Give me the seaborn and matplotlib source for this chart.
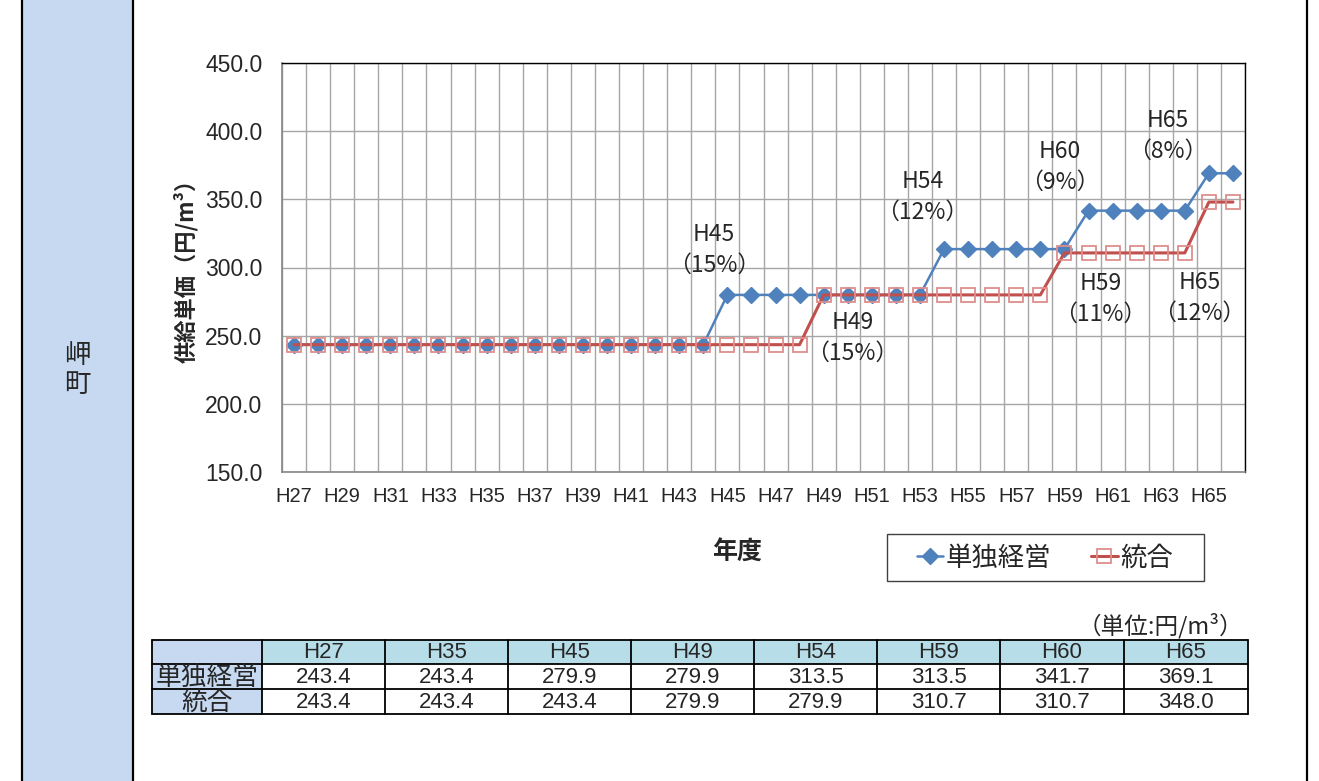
import seaborn as sns
import matplotlib.pyplot as plt
import matplotlib.patches as mpatches
import matplotlib.lines as mlines
import pandas as pd

# ---- data ----
years = ["H27", "H28", "H29", "H30", "H31", "H32", "H33", "H34", "H35", "H36",
         "H37", "H38", "H39", "H40", "H41", "H42", "H43", "H44", "H45", "H46",
         "H47", "H48", "H49", "H50", "H51", "H52", "H53", "H54", "H55", "H56",
         "H57", "H58", "H59", "H60", "H61", "H62", "H63", "H64", "H65", "H66"]
single = [243.4, 243.4, 243.4, 243.4, 243.4, 243.4, 243.4, 243.4, 243.4, 243.4,
          243.4, 243.4, 243.4, 243.4, 243.4, 243.4, 243.4, 243.4, 279.9, 279.9,
          279.9, 279.9, 279.9, 279.9, 279.9, 279.9, 279.9, 313.5, 313.5, 313.5,
          313.5, 313.5, 313.5, 341.7, 341.7, 341.7, 341.7, 341.7, 369.1, 369.1]
merged = [243.4, 243.4, 243.4, 243.4, 243.4, 243.4, 243.4, 243.4, 243.4, 243.4,
          243.4, 243.4, 243.4, 243.4, 243.4, 243.4, 243.4, 243.4, 243.4, 243.4,
          243.4, 243.4, 279.9, 279.9, 279.9, 279.9, 279.9, 279.9, 279.9, 279.9,
          279.9, 279.9, 310.7, 310.7, 310.7, 310.7, 310.7, 310.7, 348.0, 348.0]

table_years = ["H27", "H35", "H45", "H49", "H54", "H59", "H60", "H65"]
table_single = [243.4, 243.4, 279.9, 279.9, 313.5, 313.5, 341.7, 369.1]
table_merged = [243.4, 243.4, 243.4, 279.9, 279.9, 310.7, 310.7, 348.0]

# step notes: text, category position, value position
notes = [("H45\n（15%）", 17.45, 312.8),
         ("H49\n（15%）", 23.2, 248.3),
         ("H54\n（12%）", 26.1, 351.7),
         ("H60\n（9%）", 31.8, 373.7),
         ("H65\n（8%）", 36.3, 396.5),
         ("H59\n（11%）", 33.5, 276.9),
         ("H65\n（12%）", 37.6, 277.6)]

df = pd.DataFrame({"idx": range(len(years)), "single": single, "merged": merged})

sns.set_style("white")
plt.rcParams["font.family"] = ["Liberation Sans", "Noto Sans CJK JP", "DejaVu Sans"]
JP = ["Noto Sans CJK JP", "DejaVu Sans"]

W, H = 1319, 781
fig = plt.figure(figsize=(W / 100, H / 100), dpi=100)


def fx(x):
    return x / W


def fy(y):
    return 1 - y / H


# left label panel and frame
fig.add_artist(mpatches.Rectangle((fx(22), 0), fx(133) - fx(22), 1, transform=fig.transFigure,
                                  facecolor="#c6d9f0", edgecolor="none", zorder=0))
for xx in (22, 133, 1307):
    fig.add_artist(mlines.Line2D([fx(xx), fx(xx)], [0, 1], transform=fig.transFigure,
                                 color="black", lw=1.6))
fig.text(fx(77), fy(355), "岬", ha="center", va="center", fontsize=19, family=JP)
fig.text(fx(77), fy(385), "町", ha="center", va="center", fontsize=19, family=JP)

# ---- chart ----
ax = fig.add_axes([fx(282), fy(472), fx(1245) - fx(282), fy(63) - fy(472)])
sns.lineplot(data=df, x="idx", y="single", ax=ax, color="#4f81bd", lw=1.8,
             marker="D", markersize=8.5, markerfacecolor="#4f81bd",
             markeredgecolor="#4f81bd", markeredgewidth=1, label="単独経営", zorder=3)
sns.lineplot(data=df, x="idx", y="merged", ax=ax, color="#c0504d", lw=2.2,
             marker="s", markersize=10.5, markerfacecolor="none",
             markeredgecolor="#de8f8d", markeredgewidth=1.3, label="統合", zorder=4)

ax.set_xlim(-0.5, len(years) - 0.5)
ax.set_ylim(150, 450)
ax.set_yticks(range(150, 451, 50))
ax.set_yticklabels([f"{v:.1f}" for v in range(150, 451, 50)], fontsize=16.5)
ax.set_xticks(range(0, len(years), 2))
ax.set_xticklabels(years[::2], fontsize=14.5)
ax.set_xticks([i - 0.5 for i in range(len(years) + 1)], minor=True)
ax.tick_params(axis="x", which="major", length=0, pad=11)
ax.tick_params(axis="x", which="minor", length=5, width=1, color="#868686", direction="out")
ax.tick_params(axis="y", which="major", length=7, width=1, color="#868686", direction="out", pad=7)
ax.grid(axis="y", which="major", color="#a6a6a6", lw=1)
ax.grid(axis="x", which="minor", color="#a6a6a6", lw=1)
ax.set_axisbelow(True)
for side in ("left", "bottom"):
    ax.spines[side].set_color("#868686")
    ax.spines[side].set_linewidth(1.2)
for side in ("top", "right"):
    ax.spines[side].set_color("black")
    ax.spines[side].set_linewidth(1)

ax.set_ylabel("供給単価（円/m³）", fontsize=16, fontweight="bold", family=JP)
ax.yaxis.set_label_coords((198 - 282) / 963, 0.505)
ax.set_xlabel("年度", fontsize=18, fontweight="bold", family=JP)
ax.xaxis.set_label_coords((737 - 282) / 963, (472 - 541) / 409)

for txt, xi, yv in notes:
    ax.text(xi, yv, txt, ha="center", va="center", fontsize=16.5, linespacing=1.4,
            family=JP, zorder=5)

# legend: content without frame, box drawn separately
ax.get_legend().remove()
handles, labels = ax.get_legend_handles_labels()
fig.legend(handles, labels, loc="center", bbox_to_anchor=(fx(1045), fy(558)),
           ncol=2, frameon=False, prop={"family": JP, "size": 19},
           handlelength=1.0, handletextpad=0.1, columnspacing=1.5)
fig.add_artist(mpatches.Rectangle((fx(887), fy(581)), fx(1204) - fx(887), fy(534) - fy(581),
                                  transform=fig.transFigure, facecolor="none",
                                  edgecolor="#404040", lw=1))

# ---- table ----
col_x = [152, 262, 385, 508, 631, 754, 877, 1000, 1124, 1248]
row_y = [640, 664, 689, 714]
fig.add_artist(mpatches.Rectangle((fx(col_x[0]), fy(row_y[3])), fx(col_x[1]) - fx(col_x[0]),
                                  fy(row_y[0]) - fy(row_y[3]), transform=fig.transFigure,
                                  facecolor="#c6d9f0", edgecolor="none"))
fig.add_artist(mpatches.Rectangle((fx(col_x[1]), fy(row_y[1])), fx(col_x[-1]) - fx(col_x[1]),
                                  fy(row_y[0]) - fy(row_y[1]), transform=fig.transFigure,
                                  facecolor="#b7dee8", edgecolor="none"))
for yy in row_y:
    fig.add_artist(mlines.Line2D([fx(col_x[0]), fx(col_x[-1])], [fy(yy), fy(yy)],
                                 transform=fig.transFigure, color="black", lw=1.3))
for xx in col_x:
    fig.add_artist(mlines.Line2D([fx(xx), fx(xx)], [fy(row_y[0]), fy(row_y[-1])],
                                 transform=fig.transFigure, color="black", lw=1.3))

row_names = ["単独経営", "統合"]
rows = [table_single, table_merged]
for i in range(3):
    yc = fy((row_y[i] + row_y[i + 1]) / 2 + 1)
    if i > 0:
        fig.text(fx((col_x[0] + col_x[1]) / 2), yc, row_names[i - 1], ha="center",
                 va="center", fontsize=18.5, family=JP)
    for j in range(len(table_years)):
        xc = fx((col_x[j + 1] + col_x[j + 2]) / 2)
        s = table_years[j] if i == 0 else f"{rows[i - 1][j]:.1f}"
        fig.text(xc, yc, s, ha="center", va="center", fontsize=16)

fig.text(fx(1243), fy(626), "（単位:円/m³）", ha="right", va="center", fontsize=17, family=JP)

fig.savefig("out.png", dpi=100)
